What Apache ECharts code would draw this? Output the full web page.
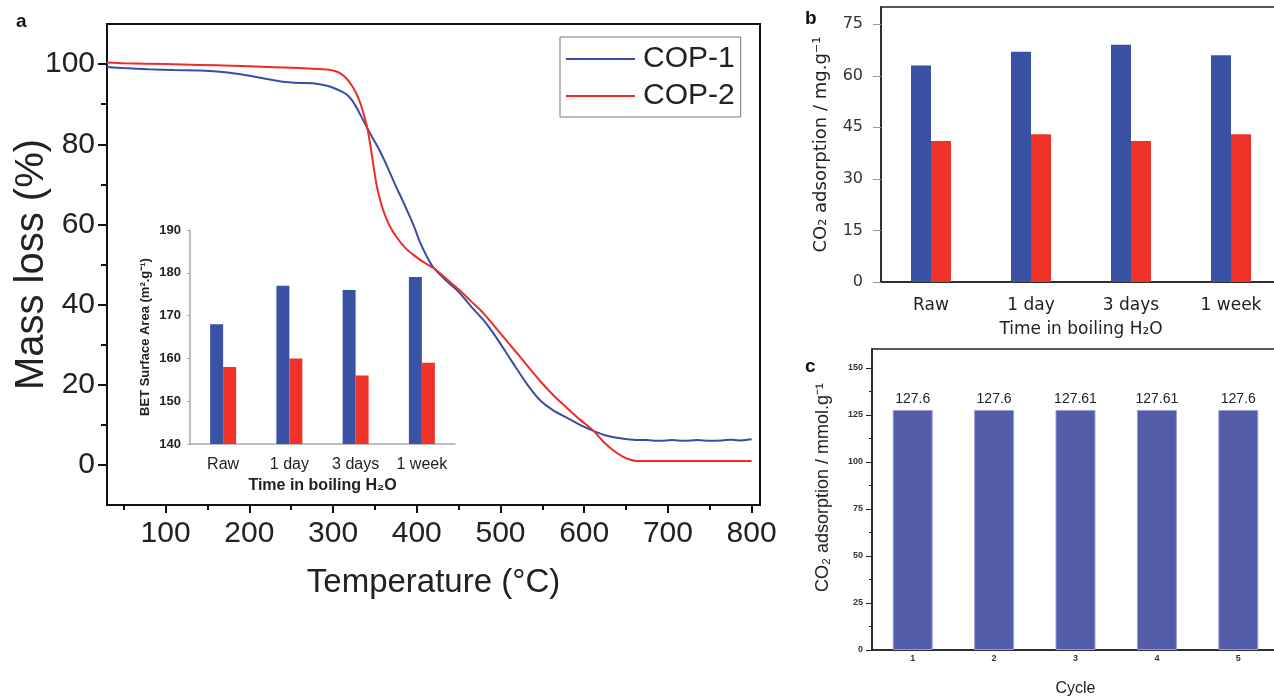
<!DOCTYPE html>
<html>
<head>
<meta charset="utf-8">
<title>COP stability</title>
<script src="https://cdn.jsdelivr.net/npm/echarts@6/dist/echarts.min.js"></script>
<style>
  html, body { margin: 0; padding: 0; background: #fff; }
  #main { width: 1274px; height: 698px; }
</style>
</head>
<body>
<div id="main"></div>
<script>
// TGA curves (panel a)
var cop1Temp = [30, 50, 80, 110, 141, 165, 185, 205, 221, 240, 260, 276, 290, 300, 310, 317, 323, 329, 335, 341, 348, 356, 365, 374, 383, 392, 398, 404, 412, 420, 435, 450, 465, 479, 490, 500, 510, 520, 533, 547, 563, 580, 595, 611, 625, 639, 658, 675, 690, 705, 720, 735, 750, 765, 775, 785, 800];
var cop1Mass = [99.3, 99.0, 98.7, 98.5, 98.4, 98.1, 97.6, 96.9, 96.3, 95.6, 95.3, 95.2, 94.7, 94.1, 93.2, 92.3, 90.9, 88.8, 86.4, 84.0, 81.3, 78.3, 74.3, 70.0, 66.0, 61.8, 58.8, 55.5, 52.0, 49.2, 46.0, 43.2, 39.5, 36.3, 33.3, 30.2, 27.0, 23.8, 19.8, 16.2, 13.6, 11.7, 10.0, 8.5, 7.4, 6.8, 6.3, 6.2, 6.0, 6.2, 6.0, 6.2, 6.0, 6.1, 6.3, 6.1, 6.4];
var cop2Temp = [30, 50, 100, 141, 180, 221, 260, 281, 295, 303, 310, 316, 322, 328, 333, 337, 341, 344, 347, 350, 353, 357, 362, 368, 376, 386, 396, 408, 421, 435, 450, 465, 479, 500, 520, 547, 565, 580, 595, 611, 623, 635, 645, 655, 663, 700, 750, 800];
var cop2Mass = [100.4, 100.2, 100.0, 99.8, 99.6, 99.3, 99.0, 98.8, 98.6, 98.2, 97.5, 96.4, 94.8, 92.6, 90.0, 87.2, 84.0, 80.5, 76.5, 72.3, 68.8, 65.5, 62.3, 59.5, 56.8, 54.2, 52.4, 50.6, 49.0, 46.5, 43.8, 40.8, 38.0, 32.8, 27.8, 21.0, 17.0, 14.1, 11.3, 8.5, 5.8, 3.6, 2.2, 1.3, 1.0, 1.0, 1.0, 1.0];

// inset of a and panel b
var timeCats = ['Raw', '1 day', '3 days', '1 week'];
var betCop1 = [168, 177, 176, 179];
var betCop2 = [158, 160, 156, 159];
var co2Cop1 = [63, 67, 69, 66];
var co2Cop2 = [41, 43, 41, 43];

// panel c
var cycles = ['1', '2', '3', '4', '5'];
var cycleValues = [127.6, 127.6, 127.61, 127.61, 127.6];

// tick labels
var tempTicks = [100, 200, 300, 400, 500, 600, 700, 800];
var tempMinor = [50, 150, 250, 350, 450, 550, 650, 750];
var massTicks = [0, 20, 40, 60, 80, 100];
var massMinor = [10, 30, 50, 70, 90];
var co2Ticks = [0, 15, 30, 45, 60, 75];
var cycleTicks = [0, 25, 50, 75, 100, 125, 150];
var cycleMinor = [12.5, 37.5, 62.5, 87.5, 112.5, 137.5];

var BLUE = '#3b4ca6';
var RED = '#ee2d29';
var SANS = '"Liberation Sans", Arial, sans-serif';
var VERD = '"DejaVu Sans", sans-serif';

function zip(a, b) {
  return a.map(function (v, i) { return [v, b[i]]; });
}

var myChart = echarts.init(document.getElementById('main'));

var option = {
  animation: false,
  textStyle: { fontFamily: SANS },
  graphic: [
    { type: 'text', left: 16, top: 12, style: { text: 'a', font: 'bold 19px ' + SANS, fill: '#111' } },
    { type: 'text', left: 805, top: 9, style: { text: 'b', font: 'bold 19px ' + SANS, fill: '#111' } },
    { type: 'text', left: 805, top: 357, style: { text: 'c', font: 'bold 19px ' + SANS, fill: '#111' } }
  ],
  legend: {
    data: ['COP-1', 'COP-2'],
    orient: 'vertical',
    left: 560,
    top: 37,
    icon: 'rect',
    itemWidth: 69,
    itemHeight: 2,
    itemGap: 7,
    padding: [7, 6, 6, 6],
    borderColor: '#777',
    borderWidth: 1,
    selectedMode: false,
    textStyle: { fontSize: 30, color: '#222', lineHeight: 30, padding: [0, 0, 0, 3] }
  },
  grid: [
    { left: 107, top: 24, width: 653, height: 481, show: true, borderColor: '#111', borderWidth: 2, outerBoundsMode: 'none' },
    { left: 190, top: 230, width: 265, height: 214, outerBoundsMode: 'none' },
    { left: 881, top: 7, width: 400, height: 275, show: true, borderColor: '#222', borderWidth: 1.5, outerBoundsMode: 'none' },
    { left: 872, top: 349, width: 407, height: 301, show: true, borderColor: '#222', borderWidth: 1.5, outerBoundsMode: 'none' }
  ],
  xAxis: [
    {
      type: 'value', gridIndex: 0, min: 30, max: 810,
      axisLine: { onZero: false, lineStyle: { color: '#111', width: 2 } },
      axisTick: { customValues: tempTicks, length: 8, lineStyle: { color: '#111', width: 2 } },
      axisLabel: { customValues: tempTicks, fontSize: 30, color: '#222', margin: 14 },
      splitLine: { show: false },
      name: 'Temperature (°C)', nameLocation: 'middle', nameGap: 61, nameMoveOverlap: false,
      nameTextStyle: { fontSize: 33, color: '#222' }
    },
    {
      type: 'category', gridIndex: 1, data: timeCats,
      axisLine: { lineStyle: { color: '#aaa', width: 1.5 } },
      axisTick: { show: false },
      axisLabel: { fontSize: 16, color: '#222', margin: 13 },
      name: 'Time in boiling H₂O', nameLocation: 'middle', nameGap: 34, nameMoveOverlap: false,
      nameTextStyle: { fontSize: 16, fontWeight: 'bold', color: '#222' }
    },
    {
      type: 'category', gridIndex: 2, data: timeCats,
      axisLine: { lineStyle: { color: '#222', width: 1.5 } },
      axisTick: { show: false },
      axisLabel: { fontSize: 17, color: '#222', margin: 15, fontFamily: VERD },
      name: 'Time in boiling H₂O', nameLocation: 'middle', nameGap: 39, nameMoveOverlap: false,
      nameTextStyle: { fontSize: 17, color: '#222', fontFamily: VERD }
    },
    {
      type: 'category', gridIndex: 3, data: cycles,
      axisLine: { lineStyle: { color: '#222', width: 1.5 } },
      axisTick: { alignWithLabel: false, length: 4, lineStyle: { color: '#222' } },
      axisLabel: { fontSize: 9, fontWeight: 'bold', color: '#333', margin: 4 },
      name: 'Cycle', nameLocation: 'middle', nameGap: 31, nameMoveOverlap: false,
      nameTextStyle: { fontSize: 16, color: '#222' }
    },
    {
      type: 'category', gridIndex: 3, data: cycles, position: 'bottom',
      axisLine: { show: false },
      axisTick: { alignWithLabel: true, length: 3, lineStyle: { color: '#222' } },
      axisLabel: { show: false }
    },
    {
      type: 'value', gridIndex: 0, min: 30, max: 810, position: 'bottom',
      axisLine: { show: false, onZero: false },
      axisTick: { customValues: tempMinor, length: 5, lineStyle: { color: '#111', width: 2 } },
      axisLabel: { show: false },
      splitLine: { show: false }
    }
  ],
  yAxis: [
    {
      type: 'value', gridIndex: 0, min: -10, max: 110,
      axisLine: { show: true, onZero: false, lineStyle: { color: '#111', width: 2 } },
      axisTick: { show: true, customValues: massTicks, length: 9, lineStyle: { color: '#111', width: 2 } },
      axisLabel: { customValues: massTicks, fontSize: 30, color: '#222', margin: 12 },
      splitLine: { show: false },
      name: 'Mass loss (%)', nameLocation: 'middle', nameGap: 55, nameMoveOverlap: false,
      nameTextStyle: { fontSize: 40, color: '#222' }
    },
    {
      type: 'value', gridIndex: 1, min: 140, max: 190, interval: 10,
      axisLine: { show: true, lineStyle: { color: '#aaa', width: 1.5 } },
      axisTick: { show: true, length: 3, lineStyle: { color: '#aaa' } },
      axisLabel: { fontSize: 13, fontWeight: 'bold', color: '#222', margin: 9 },
      splitLine: { show: false },
      name: 'BET Surface Area (m².g⁻¹)', nameLocation: 'middle', nameGap: 38, nameMoveOverlap: false,
      nameTextStyle: { fontSize: 13, fontWeight: 'bold', color: '#222' }
    },
    {
      type: 'value', gridIndex: 2, min: 0, max: 80,
      axisLine: { show: true, lineStyle: { color: '#222', width: 1.5 } },
      axisTick: { show: true, customValues: co2Ticks, length: 8, lineStyle: { color: '#999' } },
      axisLabel: { customValues: co2Ticks, fontSize: 16, color: '#333', margin: 18, fontFamily: VERD },
      splitLine: { show: false },
      name: 'CO₂ adsorption / mg.g⁻¹', nameLocation: 'middle', nameGap: 51, nameMoveOverlap: false,
      nameTextStyle: { fontSize: 18, color: '#222', fontFamily: VERD }
    },
    {
      type: 'value', gridIndex: 3, min: 0, max: 160,
      axisLine: { show: true, lineStyle: { color: '#222', width: 1.5 } },
      axisTick: { show: true, customValues: cycleTicks, length: 6, lineStyle: { color: '#222' } },
      axisLabel: { customValues: cycleTicks, fontSize: 9, fontWeight: 'bold', color: '#333', margin: 9 },
      splitLine: { show: false },
      name: 'CO₂ adsorption / mmol.g⁻¹', nameLocation: 'middle', nameGap: 40, nameMoveOverlap: false,
      nameTextStyle: { fontSize: 18, color: '#222', padding: [0, 0, 0, 24] }
    },
    {
      type: 'value', gridIndex: 0, min: -10, max: 110, position: 'left',
      axisLine: { show: false, onZero: false },
      axisTick: { show: true, customValues: massMinor, length: 6, lineStyle: { color: '#111', width: 2 } },
      axisLabel: { show: false },
      splitLine: { show: false }
    },
    {
      type: 'value', gridIndex: 3, min: 0, max: 160, position: 'left',
      axisLine: { show: false },
      axisTick: { show: true, customValues: cycleMinor, length: 3, lineStyle: { color: '#222' } },
      axisLabel: { show: false },
      splitLine: { show: false }
    }
  ],
  series: [
    {
      name: 'COP-1', type: 'line', xAxisIndex: 0, yAxisIndex: 0,
      data: zip(cop1Temp, cop1Mass), symbol: 'none', smooth: 0.25,
      lineStyle: { color: BLUE, width: 2 }, itemStyle: { color: BLUE }
    },
    {
      name: 'COP-2', type: 'line', xAxisIndex: 0, yAxisIndex: 0,
      data: zip(cop2Temp, cop2Mass), symbol: 'none', smooth: 0.25,
      lineStyle: { color: RED, width: 2 }, itemStyle: { color: RED }
    },
    {
      name: 'BET COP-1', type: 'bar', xAxisIndex: 1, yAxisIndex: 1,
      data: betCop1, barWidth: 13, barGap: 0, itemStyle: { color: '#3a52a4' }
    },
    {
      name: 'BET COP-2', type: 'bar', xAxisIndex: 1, yAxisIndex: 1,
      data: betCop2, barWidth: 13, barGap: 0, itemStyle: { color: '#ef3328' }
    },
    {
      name: 'CO2 COP-1', type: 'bar', xAxisIndex: 2, yAxisIndex: 2,
      data: co2Cop1, barWidth: 20, barGap: 0, itemStyle: { color: '#3a52a4' }
    },
    {
      name: 'CO2 COP-2', type: 'bar', xAxisIndex: 2, yAxisIndex: 2,
      data: co2Cop2, barWidth: 20, barGap: 0, itemStyle: { color: '#ef3328' }
    },
    {
      name: 'Cycle', type: 'bar', xAxisIndex: 3, yAxisIndex: 3,
      data: cycleValues, barWidth: 40,
      itemStyle: { color: '#525ca8', borderColor: '#9aa0d4', borderWidth: 1 },
      label: { show: true, position: 'top', distance: 4, fontSize: 14, color: '#222' }
    }
  ]
};

myChart.setOption(option);
</script>
</body>
</html>
